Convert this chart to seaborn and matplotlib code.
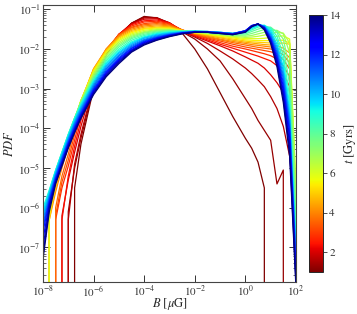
import numpy as np
import pandas as pd
import matplotlib
matplotlib.use("Agg")
import matplotlib.pyplot as plt
import seaborn as sns
from matplotlib.ticker import LogLocator, NullLocator, FixedLocator, LogFormatterSciNotation
from matplotlib.colors import Normalize
from matplotlib.cm import ScalarMappable

Z = None  # empty bin

# log10(B / muG) bin centres
log_B = [-8, -7.75, -7.5, -7.25, -7, -6.75, -6.5, -6, -5.5, -5, -4.5, -4, -3.5, -3,
         -2.5, -2, -1.5, -1, -0.5, 0, 0.25, 0.5, 0.75, 1, 1.25, 1.5, 1.75, 2]

times = [1.0, 1.3, 1.6, 2.0, 2.4, 2.8, 3.2, 3.6, 4.0, 4.5, 5.0, 5.5, 6.0, 6.5, 7.0,
         7.5, 8.0, 8.5, 9.0, 9.5, 10.0, 10.5, 11.0, 11.5, 12.0, 12.5, 13.0, 13.5, 14.0]

# log10(PDF) per snapshot
pdf_t01_0 = [Z, Z, Z, Z, Z, -5.5, -4.4, -3.0, -2.15, -1.68, -1.35, -1.18, -1.22, -1.37, -1.6, -2.0, -2.5, -3.1, -3.7, -4.25, -4.5, -4.85, -5.5, Z, Z, Z, Z, Z]
pdf_t01_3 = [Z, Z, Z, Z, -6.1, -5.0, -4.25, -2.95, -2.12, -1.66, -1.35, -1.2, -1.21, -1.35, -1.57, -1.75, -2.0, -2.3, -2.75, -3.25, -3.5, -3.8, -4.05, -4.3, -5.4, -5.05, Z, Z]
pdf_t01_6 = [Z, Z, Z, Z, -6.3, -4.9, -4.15, -2.9, -2.1, -1.64, -1.36, -1.22, -1.22, -1.34, -1.56, -1.7, -1.86, -2.05, -2.25, -2.48, -2.62, -2.78, -2.95, -3.2, -3.5, -3.95, -4.7, -6.5]
pdf_t02_0 = [Z, Z, Z, -6.2, -5.3, -4.6, -3.95, -2.85, -2.08, -1.63, -1.37, -1.25, -1.24, -1.34, -1.54, -1.68, -1.8, -1.92, -2.05, -2.2, -2.28, -2.36, -2.48, -2.65, -2.85, -3.1, -3.45, -7.2]
pdf_t02_4 = [Z, Z, Z, -6.3, -5.2, -4.45, -3.8, -2.78, -2.06, -1.63, -1.39, -1.29, -1.27, -1.35, -1.53, -1.66, -1.77, -1.88, -1.98, -2.08, -2.13, -2.18, -2.24, -2.3, -2.42, -2.62, -2.95, -7.0]
pdf_t02_8 = [Z, Z, -6.3, -5.5, -4.95, -4.3, -3.65, -2.7, -2.04, -1.63, -1.42, -1.32, -1.3, -1.36, -1.52, -1.64, -1.74, -1.84, -1.93, -2.0, -2.04, -2.08, -2.12, -2.17, -2.25, -2.42, -2.7, -6.8]
pdf_t03_2 = [Z, Z, -6.2, -5.35, -4.8, -4.15, -3.55, -2.62, -2.02, -1.64, -1.45, -1.36, -1.33, -1.38, -1.52, -1.63, -1.72, -1.8, -1.88, -1.95, -1.98, -2.01, -2.04, -2.07, -2.12, -2.27, -2.5, -6.9]
pdf_t03_6 = [Z, Z, -6.0, -5.2, -4.65, -4.02, -3.45, -2.55, -2.0, -1.65, -1.47, -1.39, -1.36, -1.4, -1.52, -1.62, -1.7, -1.77, -1.84, -1.9, -1.93, -1.96, -1.98, -2.0, -2.04, -2.15, -2.35, -6.6]
pdf_t04_0 = [Z, -6.3, -5.6, -5.0, -4.45, -3.9, -3.35, -2.5, -2.0, -1.67, -1.5, -1.42, -1.39, -1.42, -1.52, -1.61, -1.68, -1.75, -1.81, -1.86, -1.89, -1.91, -1.93, -1.95, -1.98, -2.06, -2.22, -6.4]
pdf_t04_5 = [Z, -6.2, -5.5, -4.9, -4.38, -3.85, -3.32, -2.5, -2.02, -1.7, -1.53, -1.45, -1.42, -1.44, -1.53, -1.6, -1.66, -1.72, -1.78, -1.83, -1.85, -1.87, -1.89, -1.9, -1.92, -1.98, -2.1, -6.2]
pdf_t05_0 = [Z, -6.3, -5.45, -4.85, -4.33, -3.82, -3.3, -2.52, -2.04, -1.73, -1.56, -1.48, -1.45, -1.46, -1.53, -1.59, -1.64, -1.7, -1.75, -1.8, -1.82, -1.83, -1.84, -1.85, -1.86, -1.85, -1.88, -6.0]
pdf_t05_5 = [Z, -6.2, -5.38, -4.8, -4.3, -3.8, -3.3, -2.55, -2.07, -1.76, -1.59, -1.5, -1.47, -1.48, -1.54, -1.59, -1.63, -1.68, -1.72, -1.77, -1.78, -1.79, -1.79, -1.79, -1.78, -1.78, -1.85, -5.8]
pdf_t06_0 = [Z, -6.1, -5.3, -4.75, -4.27, -3.78, -3.3, -2.58, -2.1, -1.79, -1.62, -1.53, -1.49, -1.5, -1.55, -1.58, -1.62, -1.66, -1.7, -1.74, -1.74, -1.74, -1.73, -1.71, -1.68, -1.67, -1.75, -5.5]
pdf_t06_5 = [-6.8, -5.85, -5.22, -4.7, -4.24, -3.76, -3.31, -2.62, -2.14, -1.83, -1.65, -1.56, -1.51, -1.51, -1.55, -1.58, -1.61, -1.64, -1.68, -1.71, -1.7, -1.68, -1.65, -1.61, -1.58, -1.6, -1.85, -5.5]
pdf_t07_0 = [-6.5, -5.75, -5.15, -4.66, -4.21, -3.75, -3.32, -2.66, -2.18, -1.87, -1.68, -1.58, -1.53, -1.52, -1.55, -1.57, -1.6, -1.63, -1.66, -1.68, -1.66, -1.62, -1.58, -1.54, -1.53, -1.62, -2.1, -5.8]
pdf_t07_5 = [-6.3, -5.65, -5.1, -4.63, -4.18, -3.74, -3.34, -2.7, -2.22, -1.91, -1.71, -1.6, -1.55, -1.53, -1.55, -1.56, -1.59, -1.62, -1.65, -1.65, -1.61, -1.56, -1.51, -1.49, -1.55, -1.75, -2.5, -6.2]
pdf_t08_0 = [-6.2, -5.6, -5.07, -4.61, -4.16, -3.74, -3.36, -2.74, -2.26, -1.95, -1.74, -1.63, -1.57, -1.54, -1.55, -1.56, -1.58, -1.61, -1.63, -1.62, -1.56, -1.5, -1.45, -1.45, -1.58, -1.95, -2.9, -6.5]
pdf_t08_5 = [-6.1, -5.57, -5.06, -4.6, -4.15, -3.74, -3.38, -2.77, -2.3, -2.0, -1.78, -1.66, -1.59, -1.56, -1.55, -1.55, -1.57, -1.6, -1.62, -1.59, -1.52, -1.45, -1.42, -1.47, -1.68, -2.15, -3.2, -6.8]
pdf_t09_0 = [-6.0, -5.55, -5.05, -4.6, -4.15, -3.75, -3.4, -2.8, -2.34, -2.04, -1.82, -1.69, -1.61, -1.57, -1.56, -1.55, -1.56, -1.59, -1.61, -1.57, -1.49, -1.42, -1.4, -1.5, -1.78, -2.3, -3.4, -7.0]
pdf_t09_5 = [-6.1, -5.6, -5.08, -4.63, -4.19, -3.79, -3.44, -2.84, -2.38, -2.08, -1.85, -1.71, -1.63, -1.59, -1.57, -1.55, -1.56, -1.58, -1.61, -1.56, -1.47, -1.4, -1.41, -1.55, -1.88, -2.45, -3.55, -7.1]
pdf_t10_0 = [-6.2, -5.65, -5.12, -4.67, -4.23, -3.83, -3.48, -2.88, -2.42, -2.11, -1.88, -1.73, -1.65, -1.6, -1.57, -1.56, -1.56, -1.58, -1.61, -1.55, -1.45, -1.39, -1.42, -1.6, -1.95, -2.55, -3.7, -7.2]
pdf_t10_5 = [-6.3, -5.7, -5.16, -4.71, -4.27, -3.87, -3.52, -2.92, -2.46, -2.15, -1.91, -1.76, -1.67, -1.62, -1.58, -1.56, -1.56, -1.58, -1.61, -1.55, -1.44, -1.38, -1.43, -1.64, -2.02, -2.65, -3.8, -7.3]
pdf_t11_0 = [-6.4, -5.75, -5.2, -4.75, -4.31, -3.91, -3.56, -2.96, -2.5, -2.18, -1.94, -1.78, -1.69, -1.63, -1.59, -1.56, -1.57, -1.59, -1.61, -1.54, -1.43, -1.37, -1.44, -1.68, -2.08, -2.75, -3.9, -7.4]
pdf_t11_5 = [-6.5, -5.8, -5.24, -4.79, -4.35, -3.95, -3.6, -3.0, -2.54, -2.22, -1.97, -1.8, -1.71, -1.64, -1.59, -1.57, -1.57, -1.59, -1.62, -1.54, -1.42, -1.37, -1.45, -1.71, -2.14, -2.85, -4.0, -7.5]
pdf_t12_0 = [-6.6, -5.85, -5.28, -4.83, -4.38, -3.99, -3.64, -3.03, -2.58, -2.25, -1.99, -1.82, -1.72, -1.65, -1.6, -1.57, -1.57, -1.6, -1.62, -1.54, -1.41, -1.37, -1.46, -1.74, -2.2, -2.95, -4.1, -7.6]
pdf_t12_5 = [-6.8, -5.9, -5.31, -4.86, -4.41, -4.02, -3.67, -3.06, -2.61, -2.28, -2.02, -1.84, -1.74, -1.66, -1.6, -1.57, -1.58, -1.6, -1.63, -1.55, -1.41, -1.37, -1.47, -1.77, -2.26, -3.05, -4.25, -7.7]
pdf_t13_0 = [-7.0, -5.95, -5.34, -4.89, -4.44, -4.05, -3.7, -3.09, -2.64, -2.31, -2.04, -1.86, -1.75, -1.67, -1.61, -1.58, -1.58, -1.6, -1.63, -1.56, -1.42, -1.37, -1.48, -1.8, -2.32, -3.15, -4.4, -7.8]
pdf_t13_5 = [-7.2, -6.0, -5.37, -4.92, -4.47, -4.08, -3.72, -3.12, -2.67, -2.34, -2.06, -1.88, -1.77, -1.68, -1.61, -1.58, -1.58, -1.61, -1.64, -1.57, -1.43, -1.37, -1.5, -1.83, -2.38, -3.25, -4.55, -7.9]
pdf_t14_0 = [-7.3, -6.1, -5.4, -4.95, -4.5, -4.11, -3.75, -3.15, -2.7, -2.37, -2.08, -1.9, -1.78, -1.69, -1.62, -1.58, -1.58, -1.61, -1.64, -1.58, -1.44, -1.37, -1.52, -1.86, -2.45, -3.35, -4.7, -8.0]

curves = [pdf_t01_0, pdf_t01_3, pdf_t01_6, pdf_t02_0, pdf_t02_4, pdf_t02_8, pdf_t03_2,
          pdf_t03_6, pdf_t04_0, pdf_t04_5, pdf_t05_0, pdf_t05_5, pdf_t06_0, pdf_t06_5,
          pdf_t07_0, pdf_t07_5, pdf_t08_0, pdf_t08_5, pdf_t09_0, pdf_t09_5, pdf_t10_0,
          pdf_t10_5, pdf_t11_0, pdf_t11_5, pdf_t12_0, pdf_t12_5, pdf_t13_0, pdf_t13_5,
          pdf_t14_0]

cbar_ticks = [2, 4, 6, 8, 10, 12, 14]
x_major = [-8, -6, -4, -2, 0, 2]

rows = []
for t, vals in zip(times, curves):
    for lb, lp in zip(log_B, vals):
        rows.append({"t": t, "B": 10.0 ** lb, "pdf": 0.0 if lp is None else 10.0 ** lp})
df = pd.DataFrame(rows)

sns.set_style("ticks")
plt.rcParams["font.family"] = ["STIXGeneral", "DejaVu Serif"]
plt.rcParams["mathtext.fontset"] = "stix"

fig = plt.figure(figsize=(3.57, 3.14), dpi=100)
ax = fig.add_axes([0.1204, 0.102, 0.7086, 0.882])

sns.lineplot(data=df, x="B", y="pdf", hue="t", units="t", estimator=None,
             palette="jet_r", hue_norm=(1, 14), legend=False, linewidth=0.9,
             sort=False, ax=ax)

ax.set_xscale("log")
ax.set_yscale("log")
ax.set_xlim(1e-8, 1e2)
ax.set_ylim(1.35e-8, 0.128)

ax.xaxis.set_major_locator(FixedLocator([10.0 ** v for v in x_major]))
ax.xaxis.set_minor_locator(NullLocator())
ax.xaxis.set_major_formatter(LogFormatterSciNotation())
ax.yaxis.set_major_locator(LogLocator(base=10, numticks=20))
ax.yaxis.set_minor_locator(LogLocator(base=10, subs=np.arange(2, 10), numticks=20))

ax.tick_params(which="both", direction="in", top=True, right=True,
               colors="#333333", labelsize=8)
ax.tick_params(which="major", length=5, width=0.7)
ax.tick_params(which="minor", length=2.5, width=0.5)
ax.tick_params(axis="x", which="major", pad=1.5)
ax.tick_params(axis="y", which="major", pad=2)
for s in ax.spines.values():
    s.set_color("#444444")
    s.set_linewidth(0.8)

ax.set_xlabel(r"$B$ [$\mu$G]", fontsize=9)
ax.xaxis.set_label_coords(0.5, -0.05)
ax.set_ylabel(r"$PDF$", fontsize=9, labelpad=1)

cax = fig.add_axes([0.8655, 0.134, 0.0395, 0.818])
sm = ScalarMappable(norm=Normalize(1, 14), cmap="jet_r")
cb = fig.colorbar(sm, cax=cax)
cb.set_ticks(cbar_ticks)
cb.ax.tick_params(labelsize=8, length=3, width=0.6, colors="#333333", pad=1.5)
cb.outline.set_linewidth(0.7)
cb.set_label(r"$t$ [Gyrs]", fontsize=9, labelpad=1)

fig.savefig("out.png", dpi=100)
